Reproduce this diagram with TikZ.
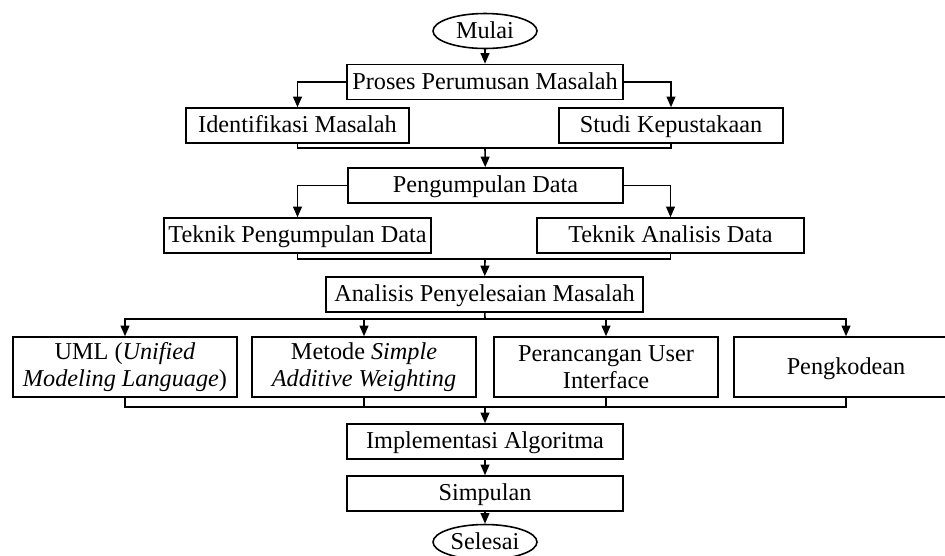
\documentclass[tikz,border=0pt]{standalone}
\usepackage{fontspec}
\setmainfont{Liberation Serif}
\usetikzlibrary{arrows.meta,shapes.geometric}

\begin{document}
\begin{tikzpicture}[x=0.02cm,y=-0.02cm,
  font=\fontsize{13.8}{15.2}\selectfont,
  box/.style={draw,line width=0.9pt,minimum height=0.7cm,inner sep=1pt,align=center},
  one/.style={text height=9pt,text depth=1pt},
  term/.style={draw,ellipse,line width=0.9pt,minimum width=2.08cm,minimum height=0.7cm,inner sep=0pt,one},
  arr/.style={line width=0.9pt,-{Triangle[length=6pt,width=5pt]}},
  lin/.style={line width=0.9pt}]
\useasboundingbox (0,0) rectangle (945,555);

\node[term] (mulai) at (485,31) {Mulai};
\node[box,one,minimum width=5.52cm] (proses) at (485,82) {Proses Perumusan Masalah};
\node[box,one,minimum width=4.46cm] (ident) at (297.5,125.5) {Identifikasi Masalah};
\node[box,one,minimum width=4.48cm] (studi) at (671,125.5) {Studi Kepustakaan};
\node[box,one,minimum width=5.50cm] (kumpul) at (485.5,185.5) {Pengumpulan Data};
\node[box,one,minimum width=5.34cm] (tpd) at (297.5,235.5) {Teknik Pengumpulan Data};
\node[box,one,minimum width=5.34cm] (tad) at (670.5,235.5) {Teknik Analisis Data};
\node[box,one,minimum width=6.34cm] (analisis) at (484.5,294.5) {Analisis Penyelesaian Masalah};

% baris empat kotak
\node[box,minimum width=4.48cm,minimum height=1.2cm] (uml) at (125,367) {UML (\textit{Unified}\\\textit{Modeling Language})};
\node[box,minimum width=4.48cm,minimum height=1.2cm] (metode) at (364,367) {Metode \textit{Simple}\\\textit{Additive Weighting}};
\node[box,minimum width=4.48cm,minimum height=1.2cm] (ui) at (606,367) {Perancangan User\\Interface};
\node[box,one,minimum width=4.48cm,minimum height=1.2cm] (kode) at (846,367) {Pengkodean};

\node[box,one,minimum width=5.52cm] (impl) at (485,441.5) {Implementasi Algoritma};
\node[box,one,minimum width=5.52cm] (simpulan) at (485,493.5) {Simpulan};
\node[term] (selesai) at (485,542) {Selesai};

\coordinate (m1) at (485,148);
\coordinate (m2) at (485,259);
\coordinate (m3) at (485,319);
\coordinate (m4) at (485,407);

\draw[arr] (mulai) -- (proses);
\draw[arr] (proses.west) -| (ident);
\draw[arr] (proses.east) -| (studi);
\draw[lin] (ident.south) |- (m1) -| (studi.south);
\draw[arr] (m1) -- (kumpul);

\draw[arr] (kumpul.west) -| (tpd);
\draw[arr] (kumpul.east) -| (tad);
\draw[lin] (tpd.south) |- (m2) -| (tad.south);
\draw[arr] (m2) -- (analisis);

\draw[lin] (analisis) -- (m3);
\foreach \n in {uml,metode,ui,kode}{
\draw[arr] (m3) -| (\n);
}
\foreach \n in {uml,metode,ui,kode}{
\draw[lin] (\n.south) |- (m4);
}
\draw[arr] (m4) -- (impl);
\draw[arr] (impl) -- (simpulan);
\draw[arr] (simpulan) -- (selesai);
\end{tikzpicture}
\end{document}
